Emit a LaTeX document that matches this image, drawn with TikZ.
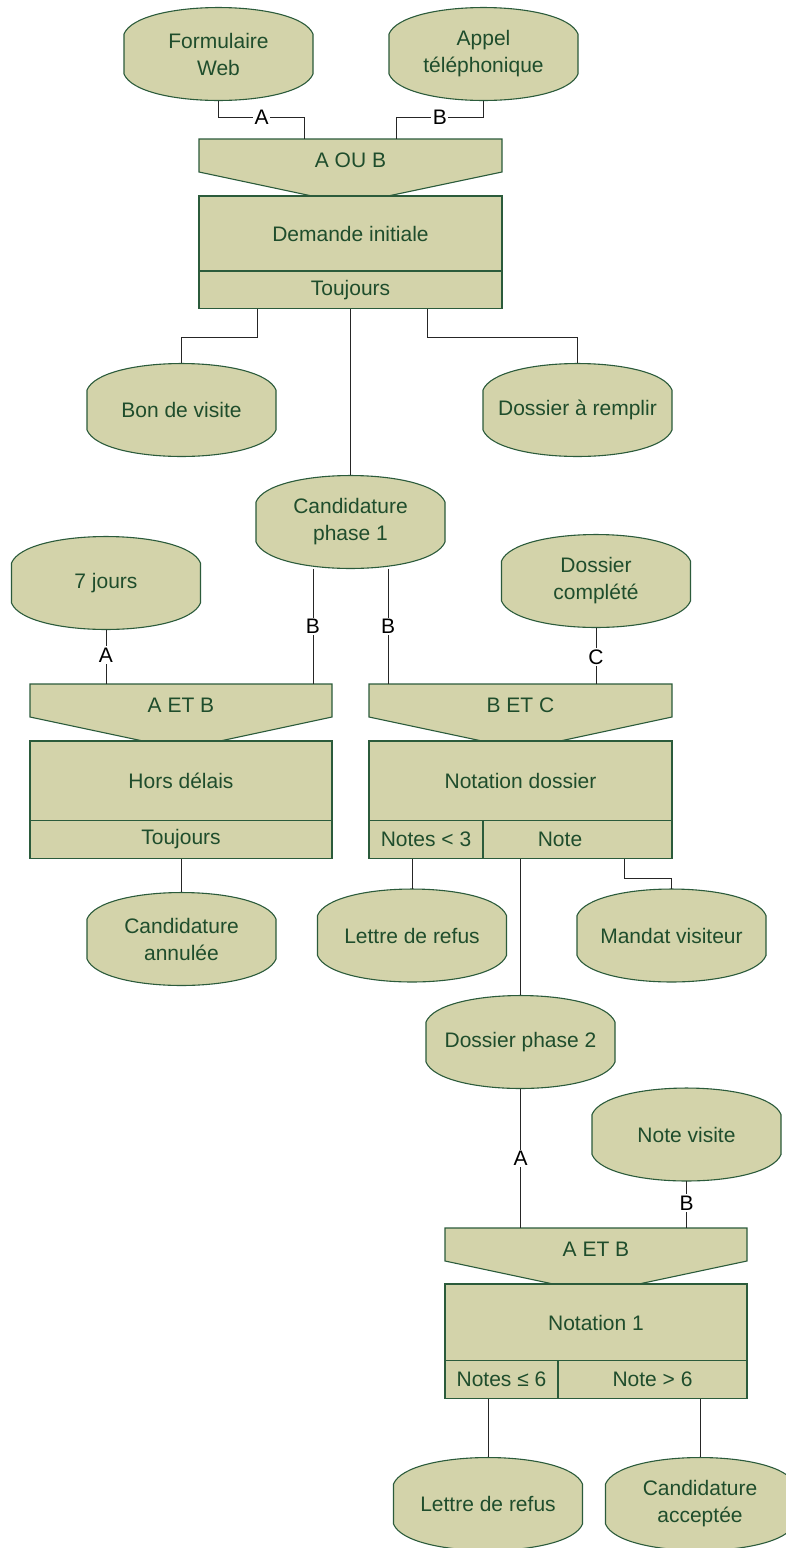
\documentclass[tikz,border=0pt]{standalone}
\usepackage{fontspec}
\setmainfont{Liberation Sans}
\usetikzlibrary{calc}
\definecolor{fillc}{HTML}{D3D3AA}
\definecolor{edgec}{HTML}{2B5B3B}
\definecolor{txtc}{HTML}{1F4D2C}
\newcommand\txtfont{\fontsize{21}{27}\selectfont}
\newcommand\pill[4]{%
  \path[shapefill] (#2-94.5,#3-20) -- (#2-94.5,#3+20)
    .. controls (#2-80,#3+55.3) and (#2+80,#3+55.3) .. (#2+94.5,#3+20)
    -- (#2+94.5,#3-20)
    .. controls (#2+80,#3-55.3) and (#2-80,#3-55.3) .. cycle;
  \node[pilltext] (#1) at (#2,#3) {#4};}
\newcommand\chev[5]{%
  \path[shapefill] (#1,#3) -- (#2,#3) -- (#2,#3+33) -- (#5,#3+57) -- (#4,#3+57) -- (#1,#3+33) -- cycle;}
\begin{document}
\begin{tikzpicture}[x=1pt,y=-1pt,
  shapefill/.style={fill=fillc, draw=edgec, line width=1.1pt},
  pilltext/.style={rectangle, minimum width=189pt, minimum height=93pt, inner sep=0pt, align=center, text=txtc, font=\txtfont},
  chevtext/.style={rectangle, minimum width=303pt, minimum height=42pt, inner sep=0pt, text=txtc, font=\txtfont},
  mainbox/.style={shapefill, rectangle, minimum width=303pt, inner sep=0pt, text=txtc, font=\txtfont},
  footbox/.style={shapefill, rectangle, minimum height=37.5pt, inner sep=0pt, text=txtc, font=\txtfont},
  wire/.style={draw=black!85, line width=1pt},
  lbl/.style={fill=white, inner sep=1.5pt, text=black, font=\txtfont}]
\useasboundingbox (0,0) rectangle (786,1548);
\clip (0,0) rectangle (786,1548);

% pills
\pill{fw}{218.5}{54}{Formulaire\\Web}
\pill{ap}{483.5}{54}{Appel\\téléphonique}
\pill{bv}{181.5}{410}{Bon de visite}
\pill{dr}{577.5}{410}{Dossier à remplir}
\pill{cpa}{350.5}{522}{Candidature\\phase 1}
\pill{dc}{596}{581}{Dossier\\complété}
\pill{js}{106}{583}{7 jours}
\pill{ca}{181.5}{939}{Candidature\\annulée}
\pill{lra}{412}{935.5}{Lettre de refus}
\pill{mv}{671.5}{935.5}{Mandat visiteur}
\pill{dpb}{520.5}{1042}{Dossier phase 2}
\pill{nv}{686.5}{1134.5}{Note visite}
\pill{lrb}{488}{1504}{Lettre de refus}
\pill{cac}{700}{1504}{Candidature\\acceptée}

% rule 1
\chev{199}{502}{139}{312}{388}
\node[chevtext] (rac) at (350.5,160) {A OU B};
\node[mainbox, minimum height=75pt] (ram) at (350.5,233.5) {Demande initiale};
\node[footbox, minimum width=303pt] (raf) at (350.5,290) {Toujours};

% rule 2
\chev{30}{332}{684}{143}{220}
\node[chevtext] (rbc) at (181,705) {A ET B};
\node[mainbox, minimum height=80pt, minimum width=302pt] (rbm) at (181,781) {Hors délais};
\node[footbox, minimum width=302pt] (rbf) at (181,839.5) {Toujours};

% rule 3
\chev{369}{672}{684}{482}{560}
\node[chevtext] (rcc) at (520.5,705) {B ET C};
\node[mainbox, minimum height=80pt] (rcm) at (520.5,781) {Notation dossier};
\node[footbox, minimum width=114pt] (rcl) at (426,839.5) {Notes < 3};
\node[footbox, minimum width=189pt] (rcr) at (577.5,839.5) {Note\hspace*{35pt}};

% rule 4
\chev{445}{747}{1228}{558}{634}
\node[chevtext] (rdc) at (596,1249) {A ET B};
\node[mainbox, minimum height=77pt, minimum width=302pt] (rdm) at (596,1322.5) {Notation 1};
\node[footbox, minimum width=113pt] (rdl) at (501.5,1379.5) {Notes ≤ 6};
\node[footbox, minimum width=189pt] (rdr) at (652.5,1379.5) {Note > 6};

% connectors
\draw[wire] (fw.south) -- ++(0,16.5) -| node[lbl,pos=0.25]{A} ([xshift=106pt]rac.north west);
\draw[wire] (ap.south) -- ++(0,16.5) -| node[lbl,pos=0.25]{B} ([xshift=-106pt]rac.north east);
\draw[wire] ([xshift=-93.5pt]raf.south) -- ++(0,28) -| (bv.north);
\draw[wire] (raf.south) -- (cpa.north);
\draw[wire] ([xshift=76.5pt]raf.south) -- ++(0,28) -| (dr.north);
\draw[wire] ([xshift=-37.5pt]cpa.south) -- node[lbl,pos=0.5]{B} ([xshift=-37.5pt]cpa.south |- rbc.north);
\draw[wire] ([xshift=37.5pt]cpa.south) -- node[lbl,pos=0.5]{B} ([xshift=37.5pt]cpa.south |- rcc.north);
\draw[wire] (js.south) -- node[lbl,pos=0.47]{A} (js.south |- rbc.north);
\draw[wire] (dc.south) -- node[lbl,pos=0.52]{C} (dc.south |- rcc.north);
\draw[wire] (ca.north |- rbf.south) -- (ca.north);
\draw[wire] (lra.north |- rcl.south) -- (lra.north);
\draw[wire] (dpb.north |- rcr.south) -- (dpb.north);
\draw[wire] ([xshift=46.5pt]rcr.south) -- ++(0,20) -| (mv.north);
\draw[wire] (dpb.south) -- node[lbl,pos=0.5]{A} (dpb.south |- rdc.north);
\draw[wire] (nv.south) -- node[lbl,pos=0.47]{B} (nv.south |- rdc.north);
\draw[wire] (lrb.north |- rdl.south) -- (lrb.north);
\draw[wire] (cac.north |- rdr.south) -- (cac.north);
\end{tikzpicture}
\end{document}
